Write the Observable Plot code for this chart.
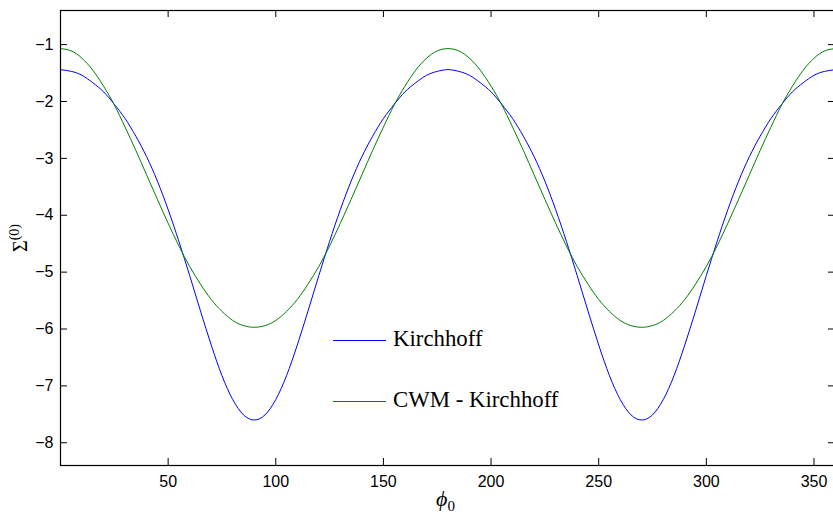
<!DOCTYPE html>
<html><head><meta charset="utf-8">
<script src="https://cdn.jsdelivr.net/npm/d3@7"></script>
<script src="https://cdn.jsdelivr.net/npm/@observablehq/plot@0.6"></script>
<style>
body{margin:0;background:#fff;}
#wrap{position:relative;width:833px;height:516px;overflow:hidden;background:#fff;}
.lbl{position:absolute;font-family:"Liberation Serif","Times New Roman",serif;color:#000;white-space:nowrap;}
</style></head><body><div id="wrap"></div>
<script>
// phi_0 (degrees)
const phi = [0,5,10,15,20,25,30,35,40,45,50,55,60,65,70,75,80,85,90,
  95,100,105,110,115,120,125,130,135,140,145,150,155,160,165,170,175,180,
  185,190,195,200,205,210,215,220,225,230,235,240,245,250,255,260,265,270,
  275,280,285,290,295,300,305,310,315,320,325,330,335,340,345,350,355,360];
// Sigma^(0), Kirchhoff
const kirchhoff = [-1.44,-1.47,-1.54,-1.67,-1.83,-2.05,-2.30,-2.61,-2.97,-3.40,-3.90,-4.46,-5.06,-5.68,-6.28,-6.82,-7.24,-7.51,-7.60,
  -7.51,-7.24,-6.82,-6.28,-5.68,-5.06,-4.46,-3.90,-3.40,-2.97,-2.61,-2.30,-2.05,-1.83,-1.67,-1.54,-1.47,-1.44,
  -1.47,-1.54,-1.67,-1.83,-2.05,-2.30,-2.61,-2.97,-3.40,-3.90,-4.46,-5.06,-5.68,-6.28,-6.82,-7.24,-7.51,-7.60,
  -7.51,-7.24,-6.82,-6.28,-5.68,-5.06,-4.46,-3.90,-3.40,-2.97,-2.61,-2.30,-2.05,-1.83,-1.67,-1.54,-1.47,-1.44];
// Sigma^(0), CWM - Kirchhoff
const cwm = [-1.07,-1.11,-1.24,-1.45,-1.73,-2.06,-2.45,-2.86,-3.29,-3.72,-4.14,-4.54,-4.90,-5.21,-5.48,-5.69,-5.85,-5.94,-5.97,
  -5.94,-5.85,-5.69,-5.48,-5.21,-4.90,-4.54,-4.14,-3.72,-3.29,-2.86,-2.45,-2.06,-1.73,-1.45,-1.24,-1.11,-1.07,
  -1.11,-1.24,-1.45,-1.73,-2.06,-2.45,-2.86,-3.29,-3.72,-4.14,-4.54,-4.90,-5.21,-5.48,-5.69,-5.85,-5.94,-5.97,
  -5.94,-5.85,-5.69,-5.48,-5.21,-4.90,-4.54,-4.14,-3.72,-3.29,-2.86,-2.45,-2.06,-1.73,-1.45,-1.24,-1.11,-1.07];
const xTicks = [50,100,150,200,250,300,350];
const yTicks = [-8,-7,-6,-5,-4,-3,-2,-1];
const seriesNames = ["Kirchhoff","CWM - Kirchhoff"];
const seriesColors = ["#0000ff","#008000"];
const xLabel = ["ϕ","0"];
const yLabel = ["Σ","(0)"];

const W = 833, H = 516, mL = 60, mR = -2, mT = 10, mB = 51;
const innerW = W - mL - mR, innerH = H - mT - mB, tk = 7;

const rows = phi.flatMap((p, i) => [
  {phi: p, v: kirchhoff[i], s: seriesNames[0]},
  {phi: p, v: cwm[i], s: seriesNames[1]}
]);

const chart = Plot.plot({
  width: W, height: H,
  marginLeft: mL, marginRight: mR, marginTop: mT, marginBottom: mB,
  style: {fontFamily: "'Liberation Sans', Arial, Helvetica, sans-serif", fontSize: "16px", color: "#000", background: "#fff", overflow: "hidden"},
  x: {domain: [0, 360]},
  y: {domain: [-8.4, -0.4]},
  color: {domain: seriesNames, range: seriesColors},
  marks: [
    Plot.line(rows, {x: "phi", y: "v", stroke: "s", z: "s", strokeWidth: 1, curve: "natural"}),
    Plot.frame({stroke: "#000", strokeWidth: 1.2}),
    Plot.ruleX(xTicks, {x: d => d, insetTop: innerH - tk, stroke: "#000"}),
    Plot.ruleX(xTicks, {x: d => d, insetBottom: innerH - tk, stroke: "#000"}),
    Plot.ruleY(yTicks, {y: d => d, insetRight: innerW - tk, stroke: "#000"}),
    Plot.ruleY(yTicks, {y: d => d, insetLeft: innerW - tk, stroke: "#000"}),
    Plot.axisX({ticks: xTicks, tickSize: 0, tickPadding: 10, label: null, fontSize: 16}),
    Plot.axisY({ticks: yTicks, tickSize: 0, tickPadding: 7, label: null, fontSize: 16})
  ]
});
const wrap = document.getElementById("wrap");
wrap.appendChild(chart);

// axis titles
const xl = document.createElement("div");
xl.className = "lbl";
xl.style.cssText = "left:436px;top:486px;font-size:22px;";
xl.innerHTML = `<i>${xLabel[0]}</i><span style="font-size:15px;position:relative;top:5px">${xLabel[1]}</span>`;
wrap.appendChild(xl);

const yl = document.createElement("div");
yl.className = "lbl";
yl.style.cssText = "left:20px;top:238px;font-size:20px;transform:translate(-50%,-50%) rotate(-90deg);transform-origin:center;";
yl.innerHTML = `${yLabel[0]}<span style="font-size:14px;position:relative;top:-8px">${yLabel[1]}</span>`;
wrap.appendChild(yl);

// legend
const legY = [340, 401];
seriesNames.forEach((name, i) => {
  const ln = document.createElement("div");
  ln.style.cssText = `position:absolute;left:333px;top:${legY[i]}px;width:53px;height:1px;background:${seriesColors[i]};`;
  wrap.appendChild(ln);
  const t = document.createElement("div");
  t.className = "lbl";
  t.style.cssText = `left:393px;top:${legY[i] - 14}px;font-size:22.8px;line-height:26px;`;
  t.textContent = name;
  wrap.appendChild(t);
});
</script>
</body></html>
